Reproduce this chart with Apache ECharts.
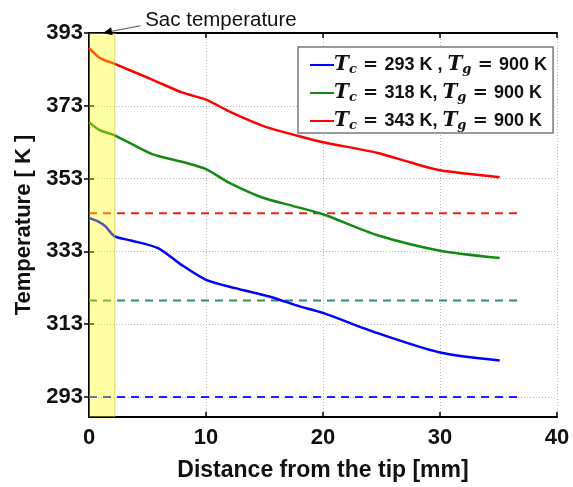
<!DOCTYPE html>
<html>
<head>
<meta charset="utf-8">
<script src="https://cdn.jsdelivr.net/npm/echarts@6/dist/echarts.min.js"></script>
<style>html,body{margin:0;padding:0;background:#fff}#c{width:573px;height:487px}</style>
</head>
<body>
<div id="c"></div>
<script>
// ---- data ----
var seriesNames = ['Tc293', 'Tc318', 'Tc343'];
var blueX = [0, 0.8, 1.4, 2.2, 3.6, 5.9, 7.9, 10, 12.5, 15.4, 18, 20, 24.6, 30, 35.1];
var blueT = [342.2, 341.2, 339.9, 337.1, 336.0, 333.9, 329.3, 325.2, 322.9, 320.6, 317.9, 316.1, 310.6, 305.2, 303.0];
var greenX = [0, 0.9, 2.2, 5.4, 8.2, 10, 12, 14.8, 17.4, 20, 24.6, 30, 35.1];
var greenT = [368.5, 366.3, 364.9, 359.7, 357.4, 355.6, 351.8, 347.8, 345.5, 343.2, 337.5, 333.2, 331.2];
var redX = [0, 0.9, 2.2, 5.4, 8.0, 10, 12.2, 15.1, 17.9, 20, 24.6, 27.5, 30, 35.1];
var redT = [388.9, 386.2, 384.5, 380.2, 376.6, 374.7, 371.1, 367.2, 364.7, 363.0, 360.1, 357.4, 355.3, 353.4];
var sacX = [0, 36.6];             // extent of the dashed reference lines
var sacBlue = 293, sacGreen = 319.5, sacRed = 343.5;
var bandX = [0, 2.2];            // yellow band (sac region)
var yTicks = [293, 313, 333, 353, 373, 393];
var xTicks = [0, 10, 20, 30, 40];
var legendLabels = [
  ['293 K , ', '900 K'],
  ['318 K, ', '900 K'],
  ['343 K, ', '900 K']
];

function zip(xs, ys) { return xs.map(function (x, i) { return [x, ys[i]]; }); }
function flat(xs, v) { return xs.map(function (x) { return [x, v]; }); }

var chart = echarts.init(document.getElementById('c'), null, {renderer: 'canvas'});
var sans = 'Liberation Sans, Arial, sans-serif';
var serif = 'DejaVu Serif, serif';
var gridLine = {show: true, lineStyle: {color: '#b8b8b8', type: [1, 2], width: 1}};
var Y_MIN = 287.5, Y_MAX = 393;

var option = {
  animation: false,
  backgroundColor: '#fff',
  grid: {left: 89, right: 16, top: 33, bottom: 70},
  legend: {
    data: seriesNames,
    orient: 'vertical',
    left: 298, top: 47,
    padding: [7, 6, 1, 12],
    itemGap: 6,
    itemWidth: 24, itemHeight: 2,
    icon: 'rect',
    borderColor: '#7a7a7a', borderWidth: 1.5,
    backgroundColor: '#fff',
    selectedMode: false,
    formatter: function (name) {
      var i = seriesNames.indexOf(name);
      return '{t|T}{s|c}{e| = }{n|' + legendLabels[i][0] + '}{t|T}{s|g}{e| = }{n|' + legendLabels[i][1] + '}';
    },
    textStyle: {
      padding: [0, 0, 0, -5],
      rich: {
        t: {fontFamily: serif, fontStyle: 'italic', fontWeight: 'bold', fontSize: 20, color: '#111', lineHeight: 24},
        s: {fontFamily: serif, fontStyle: 'italic', fontWeight: 'bold', fontSize: 13, color: '#111', padding: [9, 0, 0, 0], lineHeight: 24},
        e: {fontFamily: serif, fontWeight: 'bold', fontSize: 18, color: '#111', lineHeight: 24},
        n: {fontFamily: sans, fontWeight: 'bold', fontSize: 18, color: '#111', lineHeight: 24}
      }
    }
  },
  xAxis: [{
    type: 'value', min: 0, max: 40, interval: 10,
    name: 'Distance from the tip [mm]', nameLocation: 'middle', nameGap: 42,
    nameTextStyle: {fontFamily: sans, fontWeight: 'bold', fontSize: 23, color: '#111'},
    axisLine: {show: true, lineStyle: {color: '#000', width: 2}},
    axisTick: {show: true, inside: true, length: 5, lineStyle: {color: '#000', width: 1.5}},
    axisLabel: {fontFamily: sans, fontWeight: 'bold', fontSize: 22, color: '#111', margin: 10},
    splitLine: gridLine
  }, {
    type: 'value', min: 0, max: 40, interval: 10, position: 'top',
    axisLine: {show: true, lineStyle: {color: '#000', width: 2}},
    axisTick: {show: true, inside: true, length: 5, lineStyle: {color: '#000', width: 1.5}},
    axisLabel: {show: false}, splitLine: {show: false}
  }],
  yAxis: [{
    type: 'value', min: Y_MIN, max: Y_MAX,
    name: 'Temperature [ K ]', nameLocation: 'middle', nameGap: 53,
    nameTextStyle: {fontFamily: sans, fontWeight: 'bold', fontSize: 22, color: '#111'},
    axisLine: {show: true, lineStyle: {color: '#000', width: 2}},
    axisTick: {show: true, inside: true, length: 5, customValues: yTicks, lineStyle: {color: '#000', width: 1.5}},
    axisLabel: {fontFamily: sans, fontWeight: 'bold', fontSize: 22, color: '#111', margin: 6, customValues: yTicks},
    splitLine: gridLine
  }, {
    type: 'value', min: Y_MIN, max: Y_MAX, position: 'right',
    axisLine: {show: true, lineStyle: {color: '#000', width: 2}},
    axisTick: {show: true, inside: true, length: 5, customValues: yTicks, lineStyle: {color: '#000', width: 1.5}},
    axisLabel: {show: false}, splitLine: {show: false}
  }],
  series: [
    {name: seriesNames[0], type: 'line', data: zip(blueX, blueT), showSymbol: false, symbol: 'none', smooth: 0.25,
     lineStyle: {color: '#0000ff', width: 2.5}, itemStyle: {color: '#0000ff'}, z: 3},
    {name: seriesNames[1], type: 'line', data: zip(greenX, greenT), showSymbol: false, symbol: 'none', smooth: 0.25,
     lineStyle: {color: '#148a14', width: 2.5}, itemStyle: {color: '#148a14'}, z: 3},
    {name: seriesNames[2], type: 'line', data: zip(redX, redT), showSymbol: false, symbol: 'none', smooth: 0.25,
     lineStyle: {color: '#ff0000', width: 2.5}, itemStyle: {color: '#ff0000'}, z: 3},
    {name: 'sacBlue', type: 'line', data: flat(sacX, sacBlue), symbol: 'none',
     lineStyle: {color: '#2020ff', width: 2, type: [8, 6]}, z: 2},
    {name: 'sacGreen', type: 'line', data: flat(sacX, sacGreen), symbol: 'none',
     lineStyle: {color: '#2e8f5e', width: 2, type: [8, 6]}, z: 2},
    {name: 'sacRed', type: 'line', data: flat(sacX, sacRed), symbol: 'none',
     lineStyle: {color: '#f02020', width: 2, type: [8, 6]}, z: 2},
    {name: 'band', type: 'line', data: flat(bandX, Y_MAX), symbol: 'none',
     lineStyle: {width: 0}, areaStyle: {origin: 'start', color: 'rgba(255,255,0,0.5)'}, z: 5, silent: true},
    {name: 'bandEdge', type: 'line', data: [[bandX[1], Y_MIN], [bandX[1], Y_MAX]], symbol: 'none',
     lineStyle: {width: 1, color: 'rgba(200,200,60,0.7)'}, z: 5, silent: true}
  ]
};
chart.setOption(option);

// annotation "Sac temperature" anchored in data coordinates
var head = chart.convertToPixel({xAxisIndex: 0, yAxisIndex: 0}, [1.2, 393]);
var tail = chart.convertToPixel({xAxisIndex: 0, yAxisIndex: 0}, [4.4, 395]);
var txt = chart.convertToPixel({xAxisIndex: 0, yAxisIndex: 0}, [4.8, 396.5]);
var ang = Math.atan2(head[1] - tail[1], head[0] - tail[0]);
var L = 9, W = 4;
var bx = head[0] - L * Math.cos(ang), by = head[1] - L * Math.sin(ang);
var px = -Math.sin(ang) * W, py = Math.cos(ang) * W;
chart.setOption({
  graphic: [
    {type: 'line', shape: {x1: tail[0], y1: tail[1], x2: bx, y2: by}, style: {stroke: '#555', lineWidth: 1.2}, z: 100},
    {type: 'polygon', shape: {points: [[head[0], head[1]], [bx + px, by + py], [bx - px, by - py]]}, style: {fill: '#000'}, z: 100},
    {type: 'text', x: txt[0], y: txt[1], style: {text: 'Sac temperature', fontFamily: sans, fontSize: 20.5, fill: '#111', verticalAlign: 'middle', align: 'left'}, z: 100}
  ]
});
</script>
</body>
</html>
